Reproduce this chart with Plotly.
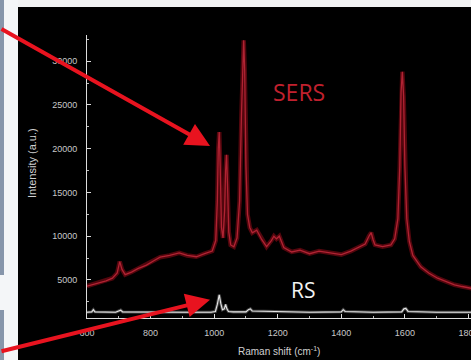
import plotly.graph_objects as go

# Raman shift (cm-1) and intensities
sers_shift = [600, 620, 640, 660, 680, 695, 703, 710, 720, 740, 760, 787, 810, 830, 860,
              890, 915, 944, 970, 994, 1005, 1010, 1013, 1016, 1019, 1023, 1028, 1033, 1036,
              1039, 1042, 1046, 1052, 1062, 1072, 1080, 1086, 1090, 1093, 1096, 1100, 1105,
              1112, 1120, 1134, 1150, 1165, 1180, 1188, 1196, 1205, 1219, 1244, 1270, 1300,
              1330, 1350, 1380, 1400, 1430, 1453, 1475, 1487, 1494, 1500, 1506, 1530, 1556,
              1568, 1578, 1584, 1588, 1592, 1596, 1600, 1606, 1614, 1625, 1650, 1675, 1703,
              1730, 1756, 1780, 1800, 1815]
sers_int = [4300, 4500, 4700, 4900, 5200, 5800, 7100, 6200, 5600, 5900, 6300, 6700, 7200, 7600, 7800,
            8100, 7800, 7650, 8000, 8300, 9500, 14000, 20000, 21900, 18000, 11000, 9800, 13000, 17500,
            19300, 16000, 10500, 9000, 8800, 9800, 14000, 24000, 31000, 32400, 29000, 18000, 12500,
            11000, 10400, 10700, 9600, 8800, 9500, 10000, 9700, 10000, 8700, 8200, 8400, 8000,
            8300, 8200, 8000, 7900, 8300, 8700, 9100, 10000, 10400, 9600, 9000, 8800, 9000,
            9700, 12000, 18000, 26500, 28800, 26000, 18000, 12000, 9400, 7800, 6500, 5800, 5200,
            4800, 4450, 4250, 4100, 4000]

rs_shift = [600, 615, 620, 625, 690, 700, 706, 712, 800, 900, 990, 1004, 1010, 1016, 1021, 1026,
            1032, 1036, 1040, 1045, 1060, 1100, 1108, 1114, 1120, 1200, 1300, 1400, 1406, 1412,
            1500, 1590, 1597, 1603, 1610, 1700, 1815]
rs_int = [1300, 1350, 1600, 1350, 1300, 1500, 1550, 1350, 1300, 1300, 1300, 1400, 2200, 3300, 2300,
          1600, 1700, 2200, 1700, 1400, 1350, 1350, 1600, 1700, 1450, 1350, 1300, 1350, 1600, 1400,
          1300, 1350, 1700, 1750, 1400, 1300, 1300]

x_ticks = [600, 800, 1000, 1200, 1400, 1600, 1800]
x_labels = ["600", "800", "1000", "1200", "1400", "1600", "1800"]
y_ticks = [5000, 10000, 15000, 20000, 25000, 30000]
y_labels = ["5000", "10000", "15000", "20000", "25000", "30000"]

fig = go.Figure()
fig.add_trace(go.Scatter(x=sers_shift, y=sers_int, mode="lines",
                         line=dict(color="rgba(110,8,18,0.75)", width=4.5), hoverinfo="skip"))
fig.add_trace(go.Scatter(x=sers_shift, y=sers_int, mode="lines",
                         line=dict(color="#b02333", width=1.3)))
fig.add_trace(go.Scatter(x=rs_shift, y=rs_int, mode="lines",
                         line=dict(color="rgba(200,200,200,0.35)", width=3), hoverinfo="skip"))
fig.add_trace(go.Scatter(x=rs_shift, y=rs_int, mode="lines",
                         line=dict(color="#e6e6e6", width=1.1)))

L, R, T, B = 87, 0, 35, 42
W, H = 471, 360
pw, ph = W - L - R, H - T - B

def px(xp):
    return (xp - L) / pw

def py(yp):
    return (H - B - yp) / ph

axis_common = dict(showgrid=False, zeroline=False, showline=True, linecolor="#dcdcdc",
                   linewidth=1, ticks="inside", ticklen=4, tickcolor="#dcdcdc",
                   automargin=False,
                   tickfont=dict(family="Liberation Sans", size=9, color="#c8c8c8"))

fig.update_xaxes(range=[600, 1808], tickvals=x_ticks, ticktext=x_labels,
                 minor=dict(dtick=100, ticks="inside", ticklen=2, tickcolor="#bbbbbb"),
                 ticklabeloverflow="allow", ticklabelstandoff=6, **axis_common)
fig.update_yaxes(range=[650, 33000], tickvals=y_ticks, ticktext=y_labels,
                 minor=dict(tickvals=[2500, 7500, 12500, 17500, 22500, 27500, 32500],
                            ticks="inside", ticklen=2, tickcolor="#bbbbbb"),
                 ticklabelstandoff=7, **axis_common)

shapes = [
    # white top strip and left strip of the slide
    dict(type="rect", xref="paper", yref="paper", x0=px(0), x1=px(W), y0=py(7), y1=py(0),
         fillcolor="#f2f3f4", line=dict(width=0), layer="above"),
    dict(type="rect", xref="paper", yref="paper", x0=px(0), x1=px(18), y0=py(H), y1=py(0),
         fillcolor="#f4f6f8", line=dict(width=0), layer="above"),
    dict(type="rect", xref="paper", yref="paper", x0=px(0), x1=px(4), y0=py(275), y1=py(0),
         fillcolor="#8796ab", line=dict(width=0), layer="above"),
    dict(type="rect", xref="paper", yref="paper", x0=px(0), x1=px(4), y0=py(H), y1=py(310),
         fillcolor="#8796ab", line=dict(width=0), layer="above"),
]

annotations = [
    dict(text="SERS", xref="paper", yref="paper", x=px(299), y=py(92), showarrow=False,
         xanchor="center", yanchor="middle",
         font=dict(family="Open Sans", size=23, color="#c0202e")),
    dict(text="RS", xref="paper", yref="paper", x=px(303), y=py(290), showarrow=False,
         xanchor="center", yanchor="middle",
         font=dict(family="Open Sans", size=21, color="#f2f2f2")),
    dict(text="Intensity (a.u.)", xref="paper", yref="paper", x=px(32), y=py(163),
         showarrow=False, textangle=-90, xanchor="center", yanchor="middle",
         font=dict(family="Liberation Sans", size=11, color="#d0d0d0")),
    dict(text="Raman shift (cm<sup>-1</sup>)", xref="paper", yref="paper", x=px(279), y=py(351),
         showarrow=False, xanchor="center", yanchor="middle",
         font=dict(family="Liberation Sans", size=10, color="#d0d0d0")),
    # red arrows
    dict(text="", x=987, y=20300, xref="x", yref="y", showarrow=True, arrowhead=2,
         arrowsize=1.2, arrowwidth=4, arrowcolor="#e8131f", ax=-215, ay=-118, standoff=0),
    dict(text="", x=987, y=2750, xref="x", yref="y", showarrow=True, arrowhead=2,
         arrowsize=1.2, arrowwidth=4, arrowcolor="#e8131f", ax=-215, ay=52, standoff=0),
]

fig.update_layout(width=W, height=H, margin=dict(l=L, r=R, t=T, b=B),
                  paper_bgcolor="#000000", plot_bgcolor="#000000", showlegend=False,
                  shapes=shapes, annotations=annotations)

fig.write_html("out.html")
